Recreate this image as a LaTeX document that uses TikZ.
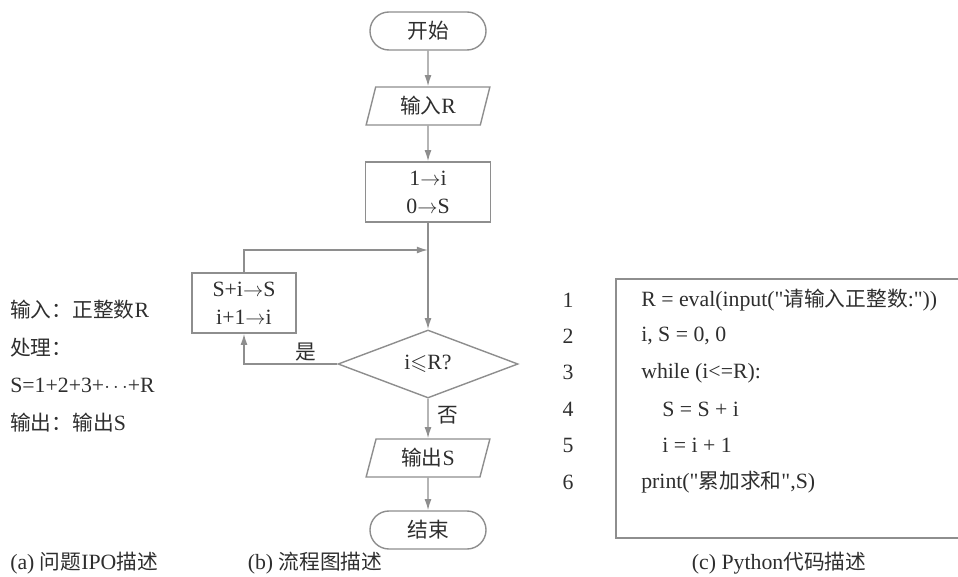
\documentclass[tikz,border=0pt]{standalone}
\usepackage{amssymb}
\usepackage{fontspec}
\setmainfont{Liberation Serif}
\newfontfamily\codefont{Liberation Serif}
\newfontfamily\cjk{Noto Sans CJK SC}[Scale=0.95]
\usetikzlibrary{shapes.geometric,shapes.misc,arrows.meta}

\definecolor{ink}{HTML}{2E2E2E}
\definecolor{rule}{HTML}{8E8E8E}

\tikzset{
  base/.style={draw=rule, line width=1pt, text=ink, inner sep=0pt, align=center},
  term/.style={base, rounded rectangle, minimum width=2.9cm, minimum height=0.95cm},
  io/.style={base, trapezium, trapezium left angle=75, trapezium right angle=105,
    trapezium stretches=true, minimum width=3.1cm, minimum height=0.95cm},
  proc/.style={base, rectangle, minimum height=1.5cm},
  cond/.style={base, diamond, minimum width=4.5cm, minimum height=1.7cm},
  arr/.style={draw=rule, line width=1pt, -{Latex[length=8pt,width=5pt]}},
  txt/.style={text=ink, inner sep=0pt, anchor=west},
  lbl/.style={text=ink, inner sep=0pt}
}

\begin{document}
\begin{tikzpicture}[x=0.025cm, y=-0.025cm, font=\fontsize{15.5}{18}\selectfont]
\useasboundingbox (0,0) rectangle (958,577);

% (b) flow chart
\node[term] (start) at (428,31) {{\cjk 开始}};
\node[io] (inR) at (428,106) {{\cjk 输入}R};
\node[proc, minimum width=3.125cm] (init) at (428,192) {1$\to$i\\[2pt]0$\to$S};
\node[cond] (test) at (428,364) {i$\leqslant$R?};
\node[proc, minimum width=2.6cm] (body) at (244,303) {S+i$\to$S\\[2pt]i+1$\to$i};
\node[io] (outS) at (428,458) {{\cjk 输出}S};
\node[term] (stop) at (428,530) {{\cjk 结束}};
\coordinate (join) at (428,250);

\draw[arr] (start) -- (inR);
\draw[arr] (inR) -- (init);
\draw[arr] (init) -- (test);
\draw[arr] (body.north) |- (join);
\draw[arr] (test.west) -| (body.south);
\draw[arr] (test.south) -- (outS);
\draw[arr] (outS) -- (stop);
\node[lbl] (yes) at (306,352) {\cjk 是};
\node[lbl] (no) at (448,415) {\cjk 否};

% (a) IPO
\node[txt] (ipo1) at (10,310) {{\cjk 输入：正整数}R};
\node[txt] (ipo2) at (10,348) {\cjk 处理：};
\node[txt] (ipo3) at (10,385) {S=1+2+3+$\cdots$+R};
\node[txt] (ipo4) at (10,423) {{\cjk 输出：输出}S};

% (c) code box
\draw[draw=rule, line width=0.8pt] (965,279) -- (616,279) -- (616,538) -- (965,538);
\foreach \k/\x/\line in {1/641/{R = eval(input("{\cjk 请输入正整数}:"))},
                        2/641/{i, S = 0, 0},
                        3/641/{while (i<=R):},
                        4/662/{S = S + i},
                        5/662/{i = i + 1},
                        6/641/{print("{\cjk 累加求和}",S)}} {
  \node[lbl] (num\k) at (568,{300+36.4*(\k-1)}) {\k};
  \node[txt, font=\fontsize{15.5}{18}\codefont] (code\k) at (\x,{300+36.4*(\k-1)}) {\line};
}

% captions
\node[txt] (capa) at (10,563) {(a) {\cjk 问题}IPO{\cjk 描述}};
\node[lbl] (capb) at (315,563) {(b) {\cjk 流程图描述}};
\node[lbl] (capc) at (779,563) {(c) Python{\cjk 代码描述}};
\end{tikzpicture}
\end{document}
